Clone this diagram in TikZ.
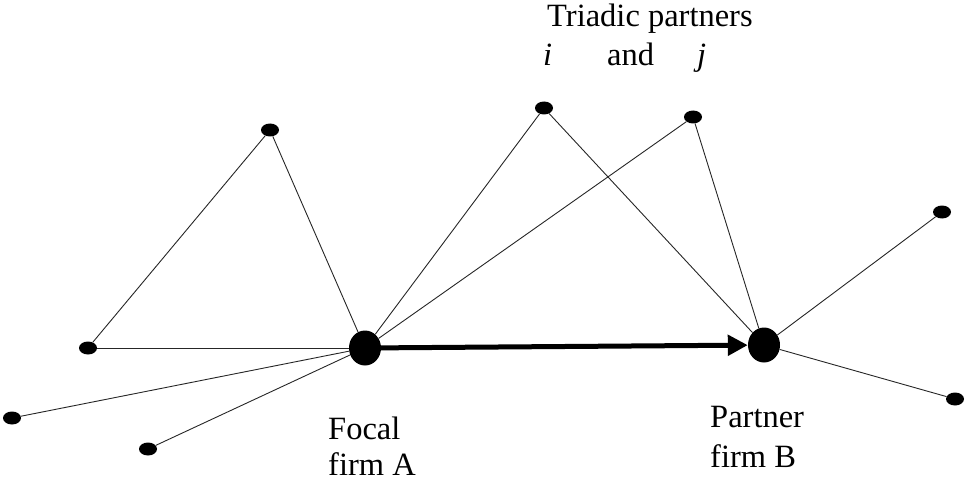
\documentclass[tikz,border=0pt]{standalone}
\usepackage{fontspec}
\setmainfont{Liberation Serif}
\usetikzlibrary{shapes.geometric,arrows.meta}
\begin{document}
\begin{tikzpicture}[x=1pt,y=-1pt,
  dot/.style={ellipse,fill=black,inner sep=0pt,minimum width=18pt,minimum height=13pt},
  bigdot/.style={ellipse,fill=black,inner sep=0pt,minimum width=32pt,minimum height=35pt},
  tie/.style={draw=black!85,line width=0.9pt},
  lbl/.style={anchor=base west,inner sep=0pt,font=\fontsize{32.5}{36}\selectfont}]
\useasboundingbox (0,0) rectangle (966,484);
\node[bigdot] (A) at (365,348) {};
\node[bigdot] (B) at (764,345) {};
\node[dot] (t) at (270,130) {};
\node[dot] (l1) at (88,348) {};
\node[dot] (l2) at (12,418) {};
\node[dot] (l3) at (148,449) {};
\node[dot] (i) at (544,108) {};
\node[dot] (j) at (693,117) {};
\node[dot] (r1) at (942,212) {};
\node[dot] (r2) at (955,399) {};
\draw[tie] (A) -- (t);
\draw[tie] (t) -- (l1);
\draw[tie] (l1) -- (A);
\draw[tie] (l2) -- (A);
\draw[tie] (l3) -- (A);
\draw[tie] (A) -- (i);
\draw[tie] (A) -- (j);
\draw[tie] (i) -- (B);
\draw[tie] (j) -- (B);
\draw[tie] (B) -- (r1);
\draw[tie] (B) -- (r2);
\draw[line width=5pt,-{Triangle[length=20pt,width=20pt]}] (A) -- (B);
\node[lbl] (tp) at (547,27) {Triadic partners};
\node[lbl] (li) at (543,66) {\itshape i};
\node[lbl] (land) at (607,66) {and};
\node[lbl] (lj) at (697,66) {\itshape j};
\node[lbl] (fa1) at (328,439) {Focal};
\node[lbl] (fa2) at (328,475) {firm A};
\node[lbl] (pb1) at (710,427) {Partner};
\node[lbl] (pb2) at (710,467) {firm B};
\end{tikzpicture}
\end{document}
